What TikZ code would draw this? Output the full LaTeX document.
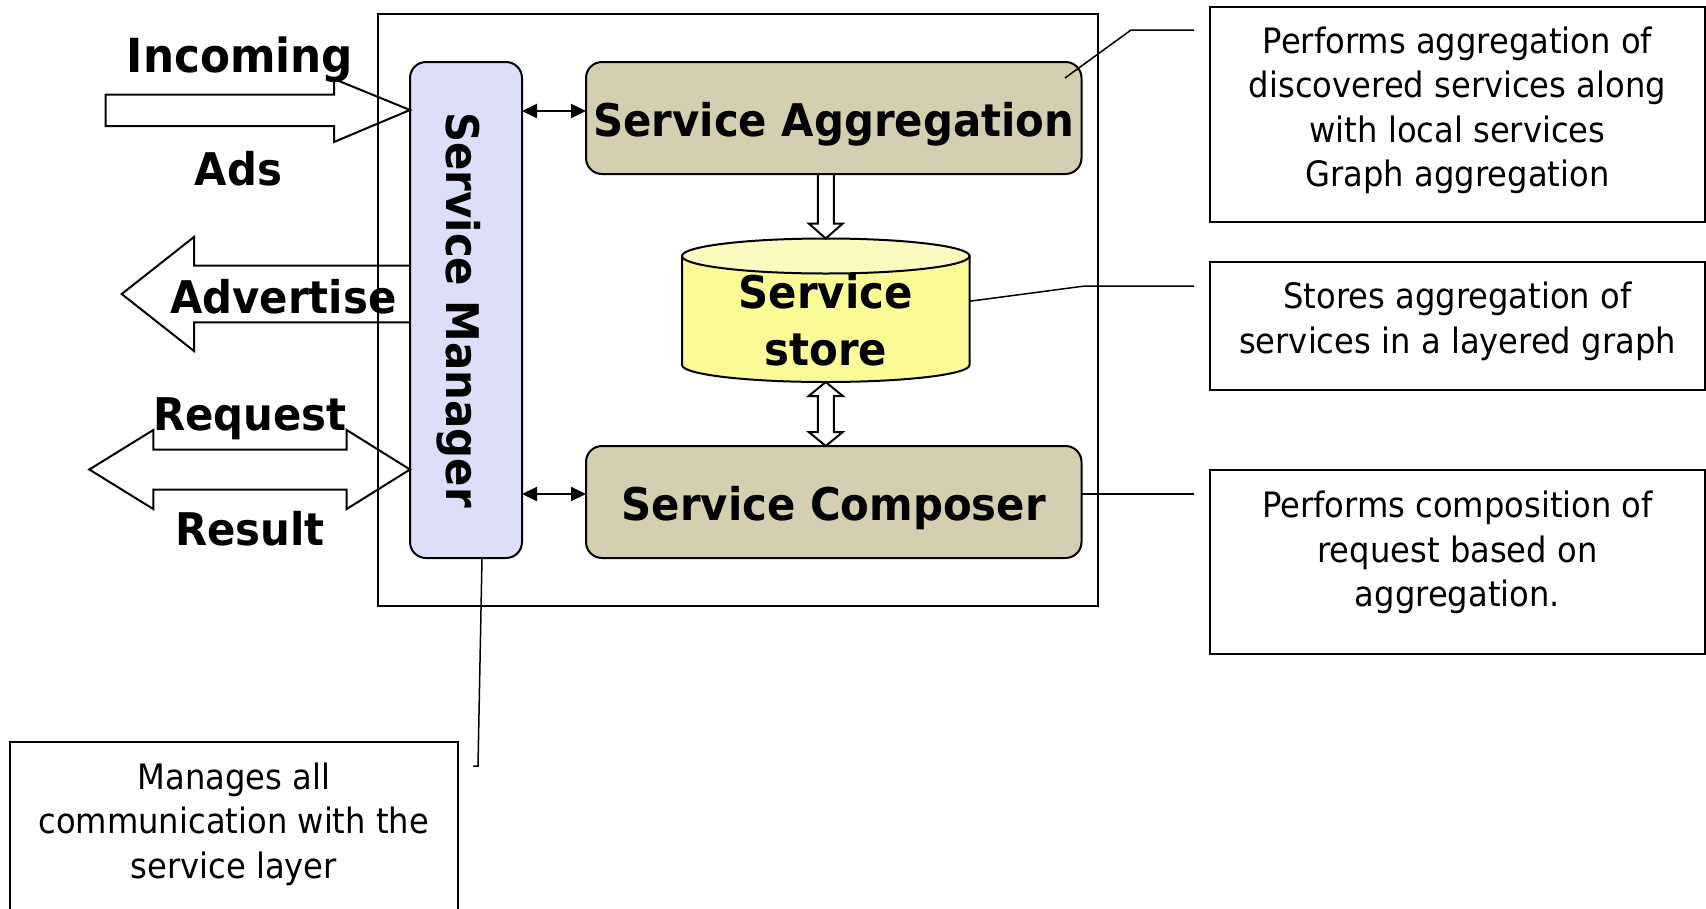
\documentclass[tikz,border=0pt]{standalone}
\usepackage{fontspec}
\usetikzlibrary{calc,arrows.meta}
\newfontfamily\notefont[FakeStretch=0.92]{DejaVu Sans}
\newfontfamily\headfont[FakeStretch=0.93]{DejaVu Sans}
\definecolor{mgrfill}{RGB}{221,222,248}
\definecolor{boxtan}{RGB}{212,207,176}
\definecolor{storebody}{RGB}{250,250,150}
\definecolor{storetop}{RGB}{251,251,192}
\tikzset{
  every node/.style={inner sep=0pt, outer sep=0pt},
  outline/.style={draw=black, line width=2pt},
  unit/.style={outline, rounded corners=16pt, fill=boxtan, minimum width=495.5pt, minimum height=112pt},
  mgrbox/.style={outline, rounded corners=16pt, fill=mgrfill, minimum width=112pt, minimum height=496pt},
  notebox/.style={draw=black, line width=2pt, minimum width=495pt},
  notetext/.style={font=\notefont\fontsize{35}{44.6}\selectfont, align=center},
  headtext/.style={font=\headfont\bfseries\fontsize{45}{56.7}\selectfont, align=center},
  bigtext/.style={font=\headfont\bfseries\fontsize{47}{56.7}\selectfont},
  hollow/.style={draw=black, line width=2pt, line join=miter},
  leader/.style={draw=black, line width=1.5pt},
  link/.style={line width=2pt, {Triangle[length=15pt,width=14pt]}-{Triangle[length=15pt,width=14pt]}},
}
\begin{document}
\begin{tikzpicture}[x=1pt,y=-1pt]
\useasboundingbox (0,0) rectangle (1706,908);

% enclosing frame of the node
\node[outline, minimum width=720pt, minimum height=592pt] (frame) at (737.5,310) {};

% service manager column
\node[mgrbox] (mgr) at (466,310) {};
\node[headtext, rotate=-90, anchor=base] (mgr-label) at (446.7,310) {Service Manager};

% aggregation and composer units
\node[unit] (agg) at (833.75,118) {};
\node[headtext, anchor=base] (agg-label) at (833.75,136.7) {Service Aggregation};
\node[unit] (comp) at (833.75,502) {};
\node[headtext, anchor=base] (comp-label) at (833.75,520) {Service Composer};

% service store cylinder
\node[minimum width=287.5pt, minimum height=143.5pt] (store) at (825.75,310.25) {};
\draw[outline, fill=storebody] ($(store.north west)+(0,17.5)$) -- ($(store.south west)+(0,-17)$)
  arc[start angle=180, end angle=0, x radius=143.75, y radius=17] -- ($(store.north east)+(0,17.5)$) -- cycle;
\draw[outline, fill=storetop] ($(store.north)+(0,17.5)$) ellipse[x radius=143.75, y radius=17.5];
\node[headtext] (store-label) at (825.75,320) {Service\\store};

% hollow arrow: aggregation -> store
\draw[hollow] ($(agg.south -| store.north)+(-8,0)$) -- ($(store.north)+(-8,-15)$) -- ($(store.north)+(-17,-15)$)
  -- (store.north) -- ($(store.north)+(17,-15)$) -- ($(store.north)+(8,-15)$) -- ($(agg.south -| store.north)+(8,0)$);

% hollow double arrow: store <-> composer
\coordinate (cdown) at (comp.north -| store.south);
\draw[hollow] (store.south) -- ++(17,14) -- ++(-9,0) -- ($(cdown)+(8,-14)$) -- ++(9,0) -- (cdown)
  -- ++(-17,-14) -- ++(9,0) -- ($(store.south)+(-8,14)$) -- ++(-9,0) -- cycle;

% manager <-> units
\draw[link] ($(mgr.east |- agg.west)+(0,-7)$) -- ($(agg.west)+(0,-7)$);
\draw[link] ($(mgr.east |- comp.west)+(0,-8)$) -- ($(comp.west)+(0,-8)$);

% incoming ads
\coordinate (intip) at ($(mgr.west |- agg.west)+(0,-8)$);
\draw[hollow] (intip) -- ++(-76,-31) -- ++(0,15.5) -- ++(-228.5,0) -- ++(0,31.5) -- ++(228.5,0) -- ++(0,16) -- cycle;
\node[bigtext, anchor=base] (lbl-in) at (240,72) {Incoming};
\node[headtext, anchor=base] (lbl-ads) at (238.5,185) {Ads};

% advertise
\coordinate (adv) at ($(mgr.west)+(0,-16)$);
\draw[hollow] ($(adv)+(0,-28.3)$) -- ++(-216,0) -- ++(0,-28.7) -- ($(adv)+(-288.3,0)$)
  -- ($(adv)+(-216,57)$) -- ++(0,-28.7) -- ($(adv)+(0,28.3)$);
\node[headtext, anchor=base] (lbl-adv) at (283.3,313) {Advertise};

% request / result
\coordinate (rq) at ($(mgr.west)+(0,159.5)$);
\draw[hollow] (rq) -- ++(-63.3,-39.5) -- ++(0,19.5) -- ++(-193.4,0) -- ++(0,-19.5) -- ++(-64,39.5)
  -- ++(64,39.5) -- ++(0,-19.5) -- ++(193.4,0) -- ++(0,19.5) -- cycle;
\node[headtext, anchor=base] (lbl-req) at (250,430.7) {Request};
\node[headtext, anchor=base] (lbl-res) at (250,545) {Result};

% annotation boxes
\node[notebox, minimum height=215.5pt] (note1) at (1457.5,114.25) {};
\node[notebox, minimum height=127.5pt] (note2) at (1457.5,325.75) {};
\node[notebox, minimum height=184pt] (note3) at (1457.5,562) {};
\node[notebox, minimum width=448.5pt, minimum height=200pt] (note4) at (233.75,842) {};
\node[notetext] (note1-text) at (1457.5,110.3) {Performs aggregation of\\discovered services along\\with local services\\Graph aggregation};
\node[notetext] (note2-text) at (1457.5,321.6) {Stores aggregation of\\services in a layered graph};
\node[notetext] (note3-text) at (1457.5,552.6) {Performs composition of\\request based on\\aggregation.};
\node[notetext] (note4-text) at (233.75,824.2) {Manages all\\communication with the\\service layer};

% leader lines
\draw[leader] ($(agg.north east)+(-16.5,16)$) -- ($(note1.north west)+(-79,23.5)$) -- ($(note1.north west)+(-16,23.5)$);
\draw[leader] ($(store.east)+(0,-9)$) -- ($(note2.west)+(-125.3,-39.75)$) -- ($(note2.west)+(-16,-39.75)$);
\draw[leader] ($(comp.east)+(0,-8)$) -- ($(comp.east -| note3.west)+(-16,-8)$);
\draw[leader] ($(mgr.south)+(16,0)$) -- ($(note4.north east)+(20,24)$) -- ++(-5,0);
\end{tikzpicture}
\end{document}
